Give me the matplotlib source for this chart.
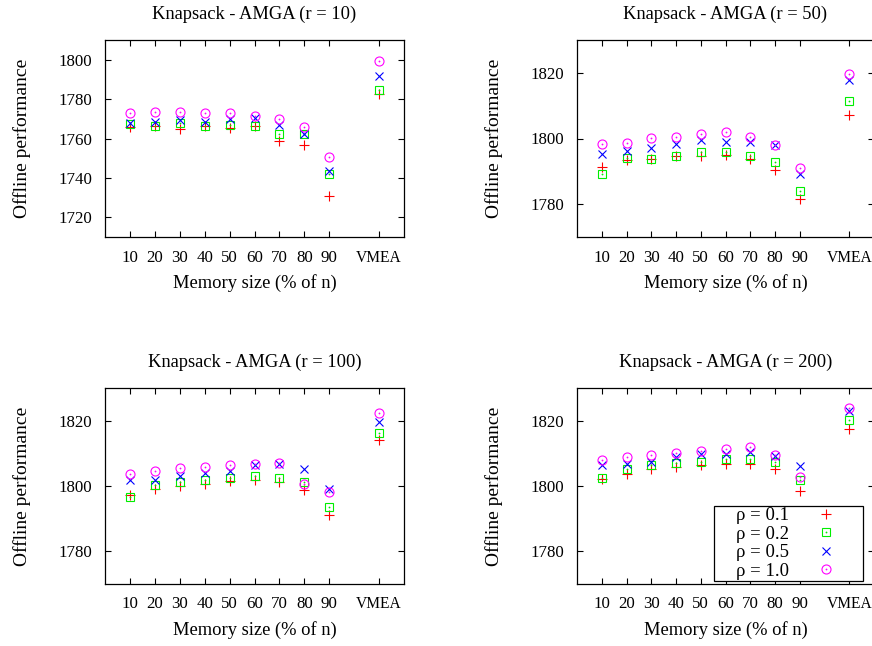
import matplotlib
matplotlib.use("Agg")
import matplotlib.pyplot as plt
from matplotlib.patches import Rectangle
from matplotlib.legend_handler import HandlerTuple

plt.rcParams['font.family'] = ['Liberation Serif', 'DejaVu Serif']

tick_labels = ['10', '20', '30', '40', '50', '60', '70', '80', '90', 'VMEA']
positions = [1, 2, 3, 4, 5, 6, 7, 8, 9, 11]
series_labels = ['ρ = 0.1', 'ρ = 0.2', 'ρ = 0.5', 'ρ = 1.0']

r10_p01 = [1765.8, 1766.1, 1764.7, 1766.4, 1765.3, 1766.1, 1758.8, 1756.8, 1730.8, 1782.7]
r10_p02 = [1767.5, 1766.4, 1768.1, 1766.4, 1766.6, 1766.4, 1762.4, 1762.4, 1742.0, 1784.4]
r10_p05 = [1767.8, 1768.6, 1769.2, 1768.6, 1769.8, 1770.2, 1767.0, 1762.4, 1743.6, 1791.5]
r10_p10 = [1772.9, 1773.7, 1773.6, 1772.9, 1773.1, 1771.2, 1769.8, 1765.8, 1750.8, 1799.5]

r50_p01 = [1791.4, 1793.3, 1793.8, 1794.7, 1794.7, 1795.0, 1793.8, 1790.4, 1781.5, 1807.1]
r50_p02 = [1789.1, 1794.0, 1793.7, 1794.8, 1795.8, 1796.0, 1794.8, 1792.7, 1784.1, 1811.3]
r50_p05 = [1795.4, 1796.3, 1797.2, 1798.4, 1799.4, 1798.8, 1798.8, 1798.1, 1789.1, 1817.8]
r50_p10 = [1798.3, 1798.6, 1800.1, 1800.5, 1801.3, 1802.1, 1800.5, 1798.1, 1791.0, 1819.7]

r100_p01 = [1797.2, 1799.0, 1800.0, 1800.7, 1801.4, 1801.7, 1801.2, 1798.7, 1791.1, 1814.2]
r100_p02 = [1796.6, 1800.2, 1801.2, 1801.7, 1802.4, 1803.0, 1802.5, 1801.2, 1793.6, 1816.1]
r100_p05 = [1801.7, 1801.7, 1803.2, 1804.1, 1804.5, 1806.3, 1806.6, 1805.1, 1799.0, 1819.5]
r100_p10 = [1803.8, 1804.5, 1805.6, 1805.9, 1806.5, 1806.6, 1807.1, 1800.5, 1798.2, 1822.5]

r200_p01 = [1802.0, 1803.8, 1805.1, 1805.8, 1806.3, 1806.8, 1806.8, 1805.3, 1798.4, 1817.5]
r200_p02 = [1802.4, 1805.3, 1806.3, 1807.1, 1807.5, 1808.3, 1808.3, 1807.3, 1801.7, 1820.3]
r200_p05 = [1806.3, 1806.8, 1807.3, 1808.8, 1809.9, 1809.9, 1810.4, 1809.3, 1806.0, 1823.0]
r200_p10 = [1808.1, 1808.8, 1809.5, 1810.2, 1810.6, 1811.4, 1811.9, 1809.5, 1802.7, 1823.8]

panels = [
    ('Knapsack - AMGA (r = 10)', [r10_p01, r10_p02, r10_p05, r10_p10], (1710, 1810), [1720, 1740, 1760, 1780, 1800]),
    ('Knapsack - AMGA (r = 50)', [r50_p01, r50_p02, r50_p05, r50_p10], (1770, 1830), [1780, 1800, 1820]),
    ('Knapsack - AMGA (r = 100)', [r100_p01, r100_p02, r100_p05, r100_p10], (1770, 1830), [1780, 1800, 1820]),
    ('Knapsack - AMGA (r = 200)', [r200_p01, r200_p02, r200_p05, r200_p10], (1770, 1830), [1780, 1800, 1820]),
]

W, H = 872, 646
fig = plt.figure(figsize=(W / 100, H / 100), dpi=100)

boxes = [
    (105, 40, 404, 237),
    (577, 40, 874, 237),
    (105, 388, 404, 584),
    (577, 388, 874, 584),
]

styles = [
    dict(marker='+', color='#ff0000', ms=7.5, mew=0.8),
    dict(marker='s', color='#00ee00', ms=6.0, mew=0.8),
    dict(marker='x', color='#0000ff', ms=6.0, mew=0.8),
    dict(marker='o', color='#ff00ff', ms=6.5, mew=0.8),
]

for i, ((title, series, ylim, yticks), (x0, y0, x1, y1)) in enumerate(zip(panels, boxes)):
    ax = fig.add_axes([x0 / W, (H - y1) / H, (x1 - x0) / W, (y1 - y0) / H])
    handles = []
    for vals, st in zip(series, styles):
        if st['marker'] in ('+', 'x'):
            l, = ax.plot(positions, vals, linestyle='none', marker=st['marker'],
                         color=st['color'], ms=st['ms'], mew=st['mew'])
            handles.append(l)
        else:
            l, = ax.plot(positions, vals, linestyle='none', marker=st['marker'],
                         mfc='none', mec=st['color'], ms=st['ms'], mew=st['mew'])
            d, = ax.plot(positions, vals, linestyle='none', marker='o',
                         mfc=st['color'], mec='none', ms=1.3)
            handles.append((l, d))
    ax.set_xlim(0, 12)
    ax.set_ylim(*ylim)
    ax.set_xticks(positions)
    ax.set_xticklabels(tick_labels)
    ax.set_yticks(yticks)
    ax.tick_params(direction='in', length=4.5, width=0.8, top=True, right=True,
                   labelsize=12.2, pad=9)
    ax.get_xticklabels()[-1].set_fontsize(11.2)
    for s in ax.spines.values():
        s.set_linewidth(0.9)
    ax.set_title(title, fontsize=13.3, pad=15)
    ax.set_xlabel('Memory size (% of n)', fontsize=13.3, labelpad=6)
    ax.set_ylabel('Offline performance', fontsize=14, labelpad=20)
    if i == 3:
        frame = Rectangle((714 / W, (H - 581) / H), (863 - 714) / W, (581 - 506) / H,
                          transform=fig.transFigure, fill=True, facecolor='white',
                          edgecolor='black', linewidth=0.9, clip_on=False, zorder=4)
        ax.add_patch(frame)
        leg = ax.legend(handles, series_labels, handler_map={tuple: HandlerTuple(ndivide=1)},
                        loc='upper left', bbox_to_anchor=(736 / W, (H - 507) / H),
                        bbox_transform=fig.transFigure,
                        markerfirst=False, fontsize=13.5, frameon=False,
                        labelspacing=0.08, borderpad=0.0,
                        handlelength=1.0, handletextpad=1.45, borderaxespad=0)
        leg.set_zorder(5)

fig.savefig('out.png', dpi=100)
